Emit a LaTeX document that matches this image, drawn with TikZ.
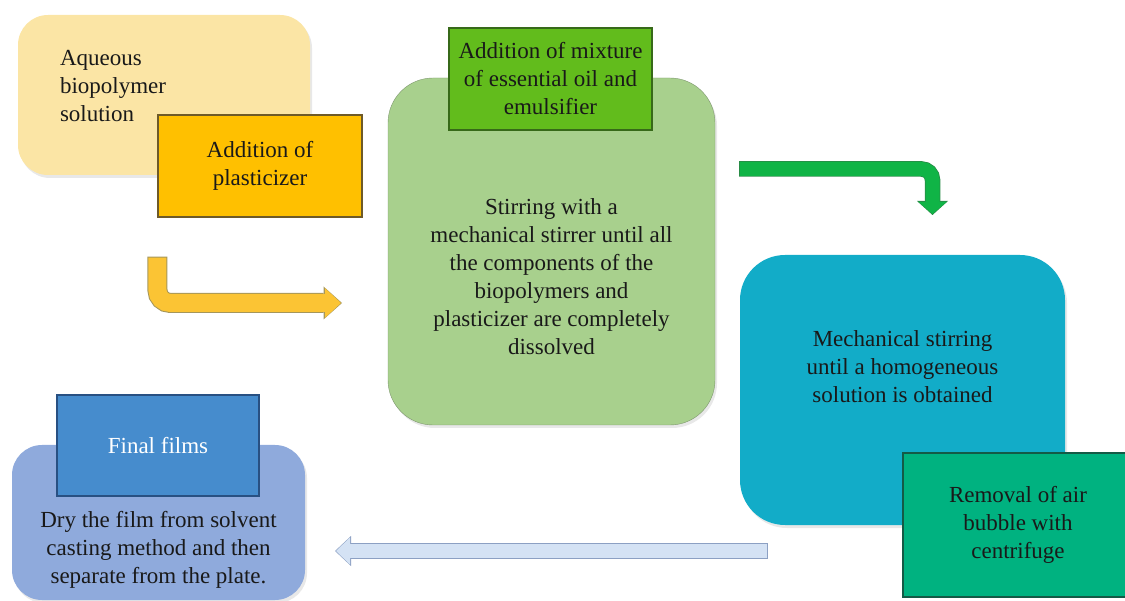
\documentclass[tikz,border=0pt]{standalone}
\usepackage{fontspec}
\setmainfont{Liberation Serif}
\usetikzlibrary{arrows.meta,shadows}
\definecolor{inkdark}{RGB}{25,25,25}
\definecolor{creamfill}{RGB}{251,229,165}
\definecolor{amberfill}{RGB}{255,192,0}
\definecolor{amberedge}{RGB}{110,90,40}
\definecolor{sagefill}{RGB}{168,208,141}
\definecolor{sageedge}{RGB}{125,150,110}
\definecolor{limefill}{RGB}{98,188,28}
\definecolor{limeedge}{RGB}{55,105,25}
\definecolor{cyanfill}{RGB}{18,172,200}
\definecolor{tealfill}{RGB}{0,178,128}
\definecolor{tealedge}{RGB}{20,90,70}
\definecolor{bluefill}{RGB}{143,170,220}
\definecolor{steelfill}{RGB}{70,140,205}
\definecolor{steeledge}{RGB}{40,80,130}
\definecolor{yelbody}{RGB}{251,196,52}
\definecolor{yeledge}{RGB}{165,150,90}
\definecolor{grnbody}{RGB}{16,180,70}
\definecolor{grnedge}{RGB}{40,140,70}
\definecolor{palebody}{RGB}{212,226,244}
\definecolor{paleedge}{RGB}{140,160,195}

\begin{document}
\begin{tikzpicture}[x=1pt,y=-1pt,
  txt/.style={font=\fontsize{23}{28}\selectfont,text=inkdark,align=center,inner sep=0pt},
  softbox/.style={txt,rounded corners=#1,
    drop shadow={opacity=0.18,shadow xshift=2pt,shadow yshift=-3pt}},
  tagbox/.style={txt,line width=1.2pt}
]
\useasboundingbox (0,0) rectangle (1125,601);

\node[softbox=30pt,fill=creamfill,minimum width=292pt,minimum height=160pt,
  label={[txt,text width=208pt,align=left,yshift=9pt]center:{Aqueous\\biopolymer\\solution}}]
  (aqueous) at (164,95) {};
\node[tagbox,fill=amberfill,draw=amberedge,minimum width=204pt,minimum height=102pt]
  (plast) at (260,166) {Addition of\\plasticizer};

\node[softbox=45pt,fill=sagefill,draw=sageedge,minimum width=327pt,minimum height=347pt,
  label={[txt,yshift=-25.5pt]center:{Stirring with a\\mechanical stirrer until all\\the components of the\\biopolymers and\\plasticizer are completely\\dissolved}}]
  (stir) at (551.5,251.5) {};
\node[tagbox,fill=limefill,draw=limeedge,minimum width=203pt,minimum height=102pt]
  (mix) at (550.5,79) {Addition of mixture\\of essential oil and\\emulsifier};

\node[softbox=45pt,fill=cyanfill,minimum width=325pt,minimum height=270pt,
  label={[txt,yshift=23pt]center:{Mechanical stirring\\until a homogeneous\\solution is obtained}}]
  (homog) at (902.5,390) {};
\node[tagbox,fill=tealfill,draw=tealedge,minimum width=230pt,minimum height=144pt]
  (bubble) at (1018,525) {Removal of air\\bubble with\\centrifuge};

\node[softbox=30pt,fill=bluefill,minimum width=293pt,minimum height=155pt,
  label={[txt,yshift=-27.5pt]center:{Dry the film from solvent\\casting method and then\\separate from the plate.}}]
  (dry) at (158.5,522.5) {};
\node[tagbox,fill=steelfill,draw=steeledge,minimum width=202pt,minimum height=101pt,
  text=white] (films) at (158,445.5) {Final films};

% block arrows
\coordinate (yelstart) at ([yshift=-40pt]plast.south west);
\coordinate (yelend) at (342,303);
\coordinate (grnstart) at (740,169);
\coordinate (grnend) at (932.5,215);
\coordinate (palestart) at (767,551);
\coordinate (paleend) at (335,551);

\draw[yeledge,line width=20pt,rounded corners=13pt,shorten <=-1pt,
  -{Triangle[length=18.5pt,width=33pt,line width=0pt]}] (yelstart) |- (yelend);
\draw[yelbody,line width=18pt,rounded corners=13pt,shorten >=1pt,
  -{Triangle[length=16pt,width=29.5pt,line width=0pt]}] (yelstart) |- (yelend);

\draw[grnedge,line width=15.5pt,rounded corners=11pt,shorten <=-1pt,
  -{Triangle[length=14pt,width=31pt,line width=0pt]}] (grnstart) -| (grnend);
\draw[grnbody,line width=14pt,rounded corners=11pt,shorten >=1pt,
  -{Triangle[length=12pt,width=28pt,line width=0pt]}] (grnstart) -| (grnend);

\draw[paleedge,line width=15.5pt,shorten <=-1pt,
  -{Triangle[length=16pt,width=30pt,line width=0pt]}] (palestart) -- (paleend);
\draw[palebody,line width=14pt,shorten >=1pt,
  -{Triangle[length=14pt,width=27pt,line width=0pt]}] (palestart) -- (paleend);
\end{tikzpicture}
\end{document}
